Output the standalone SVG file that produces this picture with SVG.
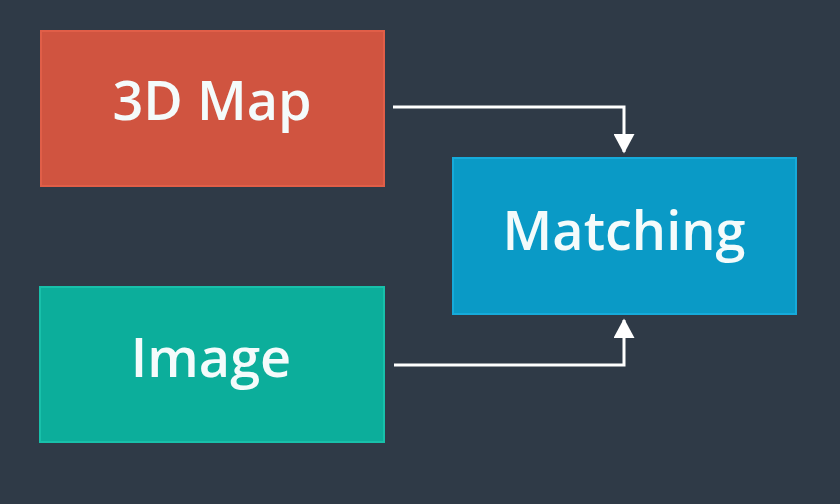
<svg xmlns="http://www.w3.org/2000/svg" width="840" height="504" viewBox="0 0 840 504">
<defs>
<style>
.lbl{font-family:"Open Sans","Noto Sans","Liberation Sans",sans-serif;font-size:54px;font-weight:600;fill:#f4fbfb;text-anchor:middle}
.conn{fill:none;stroke:#ffffff;stroke-width:3}
</style>
<marker id="ah" markerWidth="7" markerHeight="7" refX="6" refY="3.5" orient="auto" markerUnits="strokeWidth">
<path d="M0,0 L6.5,3.5 L0,7 Z" fill="#ffffff"/>
</marker>
</defs>
<rect width="840" height="504" fill="#2f3a47"/>
<g id="map3d">
<rect x="41" y="31" width="343" height="155" fill="#d05440" stroke="#e05e48" stroke-width="2"/>
<text class="lbl" x="212" y="120">3D Map</text>
</g>
<g id="image">
<rect x="40" y="287" width="344" height="155" fill="#0cae9b" stroke="#18c0aa" stroke-width="2"/>
<text class="lbl" x="211" y="377">Image</text>
</g>
<g id="matching">
<rect x="453" y="158" width="343" height="156" fill="#0a9ac6" stroke="#16aada" stroke-width="2"/>
<text class="lbl" x="624" y="250">Matching</text>
</g>
<g id="connectors">
<path class="conn" d="M393,107 H624 V152" marker-end="url(#ah)"/>
<path class="conn" d="M394,365 H624 V320" marker-end="url(#ah)"/>
</g>
</svg>
